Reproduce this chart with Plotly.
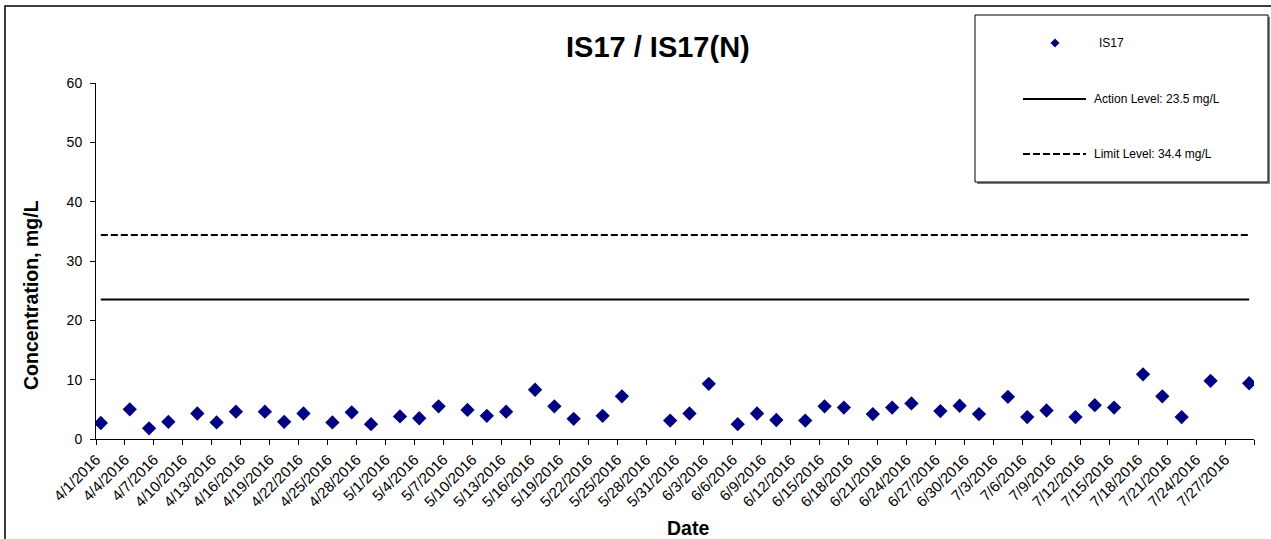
import pandas as pd
import plotly.graph_objects as go

# ---------------- data ----------------
sample_dates = ["2016-04-01", "2016-04-04", "2016-04-06", "2016-04-08", "2016-04-11", "2016-04-13",
                "2016-04-15", "2016-04-18", "2016-04-20", "2016-04-22", "2016-04-25", "2016-04-27",
                "2016-04-29", "2016-05-02", "2016-05-04", "2016-05-06", "2016-05-09", "2016-05-11",
                "2016-05-13", "2016-05-16", "2016-05-18", "2016-05-20", "2016-05-23", "2016-05-25",
                "2016-05-30", "2016-06-01", "2016-06-03", "2016-06-06", "2016-06-08", "2016-06-10",
                "2016-06-13", "2016-06-15", "2016-06-17", "2016-06-20", "2016-06-22", "2016-06-24",
                "2016-06-27", "2016-06-29", "2016-07-01", "2016-07-04", "2016-07-06", "2016-07-08",
                "2016-07-11", "2016-07-13", "2016-07-15", "2016-07-18", "2016-07-20", "2016-07-22",
                "2016-07-25", "2016-07-29"]
is17_values = [2.7, 5.0, 1.8, 2.9, 4.3, 2.8, 4.6, 4.6, 2.9, 4.3, 2.8, 4.5,
               2.5, 3.8, 3.5, 5.5, 4.9, 3.9, 4.6, 8.3, 5.5, 3.4, 3.9, 7.2,
               3.1, 4.3, 9.3, 2.5, 4.3, 3.2, 3.1, 5.5, 5.3, 4.2, 5.3, 6.0,
               4.7, 5.6, 4.2, 7.1, 3.7, 4.8, 3.7, 5.7, 5.3, 10.9, 7.2, 3.7,
               9.8, 9.4]
action_level = 23.5
limit_level = 34.4
axis_start = "2016-04-01"
axis_end = "2016-07-30"
tick_step_days = 3
series_name = "IS17"
action_label = "Action Level: 23.5 mg/L"
limit_label = "Limit Level: 34.4 mg/L"
title_text = "IS17 / IS17(N)"
x_title = "Date"
y_title = "Concentration, mg/L"

# ---------------- derived ----------------
half_day = pd.Timedelta(hours=12)  # Excel places each date in the middle of its day slot
x_pts = pd.to_datetime(sample_dates) + half_day
line_x = [x_pts[0], x_pts[-1]]

tick_dates = pd.date_range(axis_start, axis_end, freq=f"{tick_step_days}D")
tick_text = [f"{d.month}/{d.day}/{d.year}" for d in tick_dates]
tick_text[-1] = ""

FONT = "Liberation Sans, Arial, sans-serif"
W, H = 1271, 539
L, R, T, B = 96, 1254, 83, 439


def px(xp):
    return (xp - L) / (R - L)


def py(yp):
    return (B - yp) / (B - T)


fig = go.Figure()
fig.add_trace(go.Scatter(x=line_x, y=[limit_level, limit_level], mode="lines",
                         line=dict(color="black", width=2, dash="7px,3px"),
                         name=limit_label, hoverinfo="skip"))
fig.add_trace(go.Scatter(x=line_x, y=[action_level, action_level], mode="lines",
                         line=dict(color="black", width=2),
                         name=action_label, hoverinfo="skip"))
fig.add_trace(go.Scatter(x=x_pts, y=is17_values, mode="markers",
                         marker=dict(symbol="diamond", size=11, color="#000080",
                                     line=dict(width=0)),
                         name=series_name))

shapes = []
# outer chart border
shapes.append(dict(type="rect", xref="paper", yref="paper",
                   x0=px(5), x1=px(W + 10), y0=py(6), y1=py(H + 10),
                   line=dict(color="black", width=1.5), fillcolor="rgba(0,0,0,0)", layer="below"))
# legend box shadow and box
shapes.append(dict(type="rect", xref="paper", yref="paper",
                   x0=px(977), x1=px(1270), y0=py(17), y1=py(184),
                   line=dict(width=0), fillcolor="#808080"))
shapes.append(dict(type="rect", xref="paper", yref="paper",
                   x0=px(975), x1=px(1268), y0=py(15), y1=py(182),
                   line=dict(color="black", width=1), fillcolor="white"))
# legend samples
cx, cy, r = 1055, 43, 4.5
shapes.append(dict(type="path", xref="paper", yref="paper",
                   path=f"M {px(cx - r)} {py(cy)} L {px(cx)} {py(cy - r)} L {px(cx + r)} {py(cy)} L {px(cx)} {py(cy + r)} Z",
                   line=dict(width=0), fillcolor="#000080"))
shapes.append(dict(type="line", xref="paper", yref="paper",
                   x0=px(1023), x1=px(1086), y0=py(99), y1=py(99),
                   line=dict(color="black", width=2)))
shapes.append(dict(type="line", xref="paper", yref="paper",
                   x0=px(1023), x1=px(1086), y0=py(154), y1=py(154),
                   line=dict(color="black", width=2, dash="7px,3px")))

annotations = [
    dict(text=f"<b>{title_text}</b>", xref="paper", yref="paper", x=px(658), y=py(47),
         xanchor="center", yanchor="middle", showarrow=False,
         font=dict(family=FONT, size=29, color="black")),
    dict(text=f"<b>{x_title}</b>", xref="paper", yref="paper", x=px(688), y=py(528),
         xanchor="center", yanchor="middle", showarrow=False,
         font=dict(family=FONT, size=19.5, color="black")),
    dict(text=f"<b>{y_title}</b>", xref="paper", yref="paper", x=px(31), y=py(295),
         xanchor="center", yanchor="middle", showarrow=False, textangle=-90,
         font=dict(family=FONT, size=19.5, color="black")),
    dict(text=series_name, xref="paper", yref="paper", x=px(1097), y=py(43),
         xanchor="left", yanchor="middle", showarrow=False,
         font=dict(family=FONT, size=12, color="black")),
    dict(text=action_label, xref="paper", yref="paper", x=px(1092), y=py(99),
         xanchor="left", yanchor="middle", showarrow=False,
         font=dict(family=FONT, size=12, color="black")),
    dict(text=limit_label, xref="paper", yref="paper", x=px(1092), y=py(154),
         xanchor="left", yanchor="middle", showarrow=False,
         font=dict(family=FONT, size=12, color="black")),
]

fig.update_layout(
    width=W, height=H,
    margin=dict(l=L, r=W - R, t=T, b=H - B, pad=0),
    paper_bgcolor="white", plot_bgcolor="white",
    showlegend=False,
    font=dict(family=FONT, color="black"),
    shapes=shapes, annotations=annotations,
)
fig.update_xaxes(type="date", range=[axis_start, axis_end],
                 tickmode="array", tickvals=tick_dates, ticktext=tick_text,
                 tickangle=-45, ticks="outside", ticklen=5, tickcolor="black",
                 showline=True, linecolor="black", linewidth=1,
                 showgrid=False, zeroline=False,
                 tickfont=dict(family=FONT, size=15, color="black"))
fig.update_yaxes(range=[0, 60], dtick=10, tick0=0,
                 ticks="outside", ticklen=5, tickcolor="black",
                 showline=True, linecolor="black", linewidth=1,
                 showgrid=False, zeroline=False, ticklabelstandoff=5,
                 tickfont=dict(family=FONT, size=14, color="black"))

fig.write_html("out.html", config={"displayModeBar": False},
               post_script="document.body.style.margin='0';document.body.style.overflow='hidden';")
